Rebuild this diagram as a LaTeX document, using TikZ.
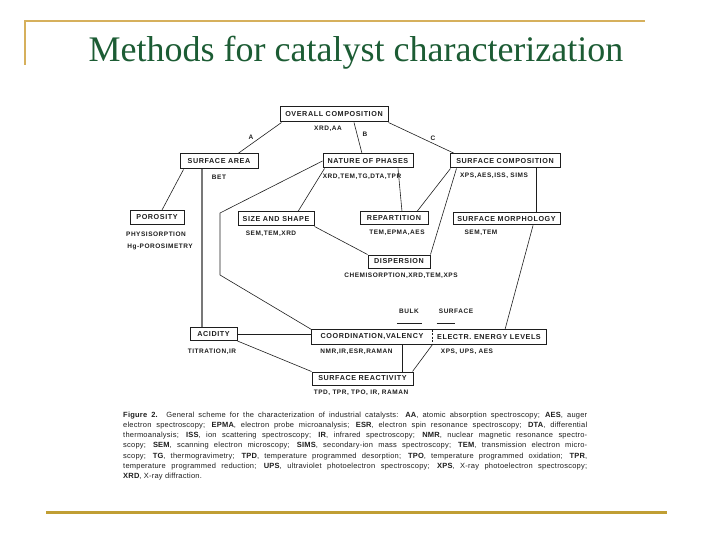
\documentclass[tikz,border=0pt]{standalone}
\usepackage{fontspec}
\setmainfont{Liberation Serif}
\newfontfamily\diagfont[LetterSpace=8]{Liberation Sans}
\newfontfamily\lblfont[LetterSpace=8]{Liberation Sans}
\newfontfamily\capfont[LetterSpace=3]{Liberation Sans}
\usetikzlibrary{calc}
\definecolor{titlegreen}{RGB}{28,92,52}
\definecolor{goldA}{RGB}{214,176,92}
\definecolor{goldB}{RGB}{192,158,52}
\definecolor{ink}{RGB}{30,30,30}
\newcommand{\capline}[1]{\makebox[464pt][s]{#1}}
\begin{document}
\begin{tikzpicture}[x=1pt,y=-1pt,
  box/.style={draw=ink,line width=1pt,inner sep=0pt,text=ink,
    font=\diagfont\bfseries\fontsize{7.2}{8}\selectfont},
  lbl/.style={inner sep=0pt,text=ink,font=\lblfont\bfseries\fontsize{6.5}{7}\selectfont},
  link/.style={draw=ink,line width=0.6pt},
  capt/.style={inner sep=0pt,anchor=base west,text=ink,font=\capfont\fontsize{7.5}{8}\selectfont},
]
\useasboundingbox (0,0) rectangle (720,540);
% frame decorations
\draw[goldA,line width=1.4pt] (25,65) -- (25,21) -- (645,21);
\draw[goldB,line width=3pt] (46,512) -- (667,512);
\node[anchor=base,text=titlegreen,font=\fontsize{36}{40}\selectfont,inner sep=0pt] (title) at (356,62) {Methods for catalyst characterization};

% boxes
\node[box,minimum width=108pt,minimum height=15pt] (overall) at (334,114.5) {OVERALL COMPOSITION};
\node[box,minimum width=78pt,minimum height=15pt] (sarea) at (219,161.5) {SURFACE AREA};
\node[box,minimum width=90pt,minimum height=14pt] (nature) at (368,161) {NATURE OF PHASES};
\node[box,minimum width=110pt,minimum height=14pt] (scomp) at (505,161) {SURFACE COMPOSITION};
\node[box,minimum width=54pt,minimum height=14pt] (poro) at (157,217.5) {POROSITY};
\node[box,minimum width=76pt,minimum height=14pt] (size) at (276,219) {SIZE AND SHAPE};
\node[box,minimum width=68pt,minimum height=13pt] (repart) at (394,218.5) {REPARTITION};
\node[box,minimum width=107pt,minimum height=12pt] (morph) at (506.5,219) {SURFACE MORPHOLOGY};
\node[box,minimum width=62pt,minimum height=13pt] (disp) at (399,261.5) {DISPERSION};
\node[box,minimum width=47pt,minimum height=13pt] (acid) at (213.5,334) {ACIDITY};
\node[box,draw=none,minimum width=120pt,minimum height=14pt] (coord) at (372,337) {COORDINATION,VALENCY};
\node[box,draw=none,minimum width=114pt,minimum height=14pt] (electr) at (489,337) {ELECTR. ENERGY LEVELS};
\draw[ink,line width=1pt] (coord.north west) rectangle (electr.south east);
\draw[ink,line width=0.6pt,dashed,dash pattern=on 2pt off 1.5pt] (coord.north east) -- (coord.south east);
\node[box,minimum width=101pt,minimum height=13pt] (react) at (362.5,378.5) {SURFACE REACTIVITY};

% method labels
\node[lbl] (l-overall) at (328,129) {XRD,AA};
\node[lbl] (l-A) at (251,137) {A};
\node[lbl] (l-B) at (365,134) {B};
\node[lbl] (l-C) at (433,138) {C};
\node[lbl] (l-sarea) at (219,177) {BET};
\node[lbl] (l-nature) at (362,177) {XRD,TEM,TG,DTA,TPR};
\node[lbl] (l-scomp) at (494,176) {XPS,AES,ISS, SIMS};
\node[lbl] (l-poro1) at (156,234) {PHYSISORPTION};
\node[lbl] (l-poro2) at (160,247) {Hg-POROSIMETRY};
\node[lbl] (l-size) at (271,234) {SEM,TEM,XRD};
\node[lbl] (l-repart) at (397,233) {TEM,EPMA,AES};
\node[lbl] (l-morph) at (481,233) {SEM,TEM};
\node[lbl] (l-disp) at (401,276) {CHEMISORPTION,XRD,TEM,XPS};
\node[lbl] (bulk) at (409,311.5) {BULK};
\node[lbl] (surf) at (456,311.5) {SURFACE};
\node[lbl] (l-coord) at (356.5,352) {NMR,IR,ESR,RAMAN};
\node[lbl] (l-electr) at (467,352) {XPS, UPS, AES};
\node[lbl] (l-acid) at (212,351.5) {TITRATION,IR};
\node[lbl] (l-react) at (361,392.5) {TPD, TPR, TPO, IR, RAMAN};
\draw[link] ([yshift=-9pt,xshift=-2pt]bulk.south west) -- ([yshift=-9pt,xshift=3pt]bulk.south east);
\draw[link] ([yshift=-9pt,xshift=-2pt]surf.south west) -- ([yshift=-9pt,xshift=-18pt]surf.south east);

% connectors
\coordinate (bendA) at (220,213);
\coordinate (bendB) at (220,275);
\draw[link] ([xshift=2pt]overall.south west) -- ([xshift=19pt]sarea.north);
\draw[link] ([xshift=20pt]overall.south) -- ([xshift=-6pt]nature.north);
\draw[link] (overall.south east) -- ([xshift=5pt]scomp.north west);
\draw[link] ([xshift=4pt]sarea.south west) -- ([xshift=5pt]poro.north);
\draw[ink!60,line width=1.5pt] ([xshift=-17pt]sarea.south) -- ([xshift=-17pt]sarea.south |- acid.north);
\draw[link] ([xshift=2pt]nature.south west) -- ([xshift=22pt]size.north);
\draw[link] (nature.west) -- (bendA) -- (bendB) -- (coord.north west);
\draw[link] ([xshift=30pt]nature.south) -- ([xshift=8pt]repart.north);
\draw[link] ([xshift=1pt]scomp.south west) -- ([xshift=23pt]repart.north);
\draw[link] ([xshift=7pt]scomp.south west) -- (disp.north east);
\draw[link] ([xshift=31pt]scomp.south) -- ([xshift=31pt]scomp.south |- morph.north);
\draw[link] (size.south east) -- (disp.north west);
\draw[link] ([xshift=26.5pt]morph.south) -- ([xshift=16pt]electr.north);
\draw[link] (acid.east) -- (acid.east -| coord.west);
\draw[link] (acid.south east) -- (react.north west);
\draw[link] ([xshift=30pt]coord.south) -- ([xshift=30pt]coord.south |- react.north);
\draw[link] (coord.south east) -- ([xshift=-1pt]react.north east);

% caption
\node[capt] (cap1) at (123,417) {\capline{\textbf{Figure 2.} General scheme for the characterization of industrial catalysts: \textbf{AA}, atomic absorption spectroscopy; \textbf{AES}, auger}};
\node[capt] (cap2) at (123,427.3) {\capline{electron spectroscopy; \textbf{EPMA}, electron probe microanalysis; \textbf{ESR}, electron spin resonance spectroscopy; \textbf{DTA}, differential}};
\node[capt] (cap3) at (123,437.6) {\capline{thermoanalysis; \textbf{ISS}, ion scattering spectroscopy; \textbf{IR}, infrared spectroscopy; \textbf{NMR}, nuclear magnetic resonance spectro-}};
\node[capt] (cap4) at (123,447.9) {\capline{scopy; \textbf{SEM}, scanning electron microscopy; \textbf{SIMS}, secondary-ion mass spectroscopy; \textbf{TEM}, transmission electron micro-}};
\node[capt] (cap5) at (123,458.2) {\capline{scopy; \textbf{TG}, thermogravimetry; \textbf{TPD}, temperature programmed desorption; \textbf{TPO}, temperature programmed oxidation; \textbf{TPR},}};
\node[capt] (cap6) at (123,468.5) {\capline{temperature programmed reduction; \textbf{UPS}, ultraviolet photoelectron spectroscopy; \textbf{XPS}, X-ray photoelectron spectroscopy;}};
\node[capt] (cap7) at (123,478.8) {\textbf{XRD}, X-ray diffraction.};
\end{tikzpicture}
\end{document}
